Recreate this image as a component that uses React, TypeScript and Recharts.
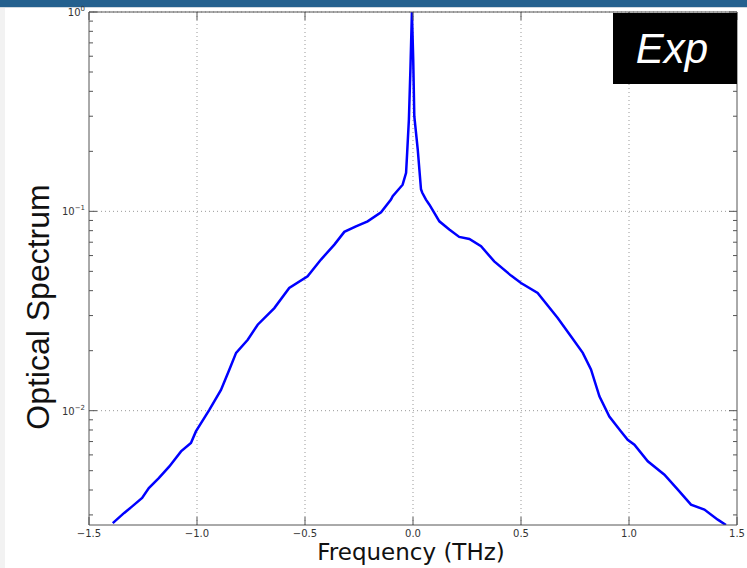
import React from 'react';
import { LineChart, Line, XAxis, YAxis, ReferenceLine } from 'recharts';

// frequency (THz) and normalized optical spectrum
const FREQ = [
  -1.39, -1.337, -1.3, -1.254, -1.223, -1.177, -1.128, -1.074, -1.028, -1.005,
  -0.943, -0.889, -0.85, -0.819, -0.765, -0.719, -0.642, -0.573, -0.488, -0.426,
  -0.364, -0.318, -0.264, -0.21, -0.148, -0.102, -0.094, -0.048, -0.032, -0.027,
  -0.019, -0.012, -0.005,
  0.001, 0.006, 0.022, 0.037, 0.043, 0.06, 0.076, 0.122, 0.168, 0.214, 0.261,
  0.315, 0.376, 0.454, 0.5, 0.577, 0.67, 0.731, 0.786, 0.824, 0.863, 0.909,
  0.963, 0.994, 1.025, 1.087, 1.164, 1.226, 1.287, 1.349, 1.411, 1.449,
];
const SPECTRUM = [
  0.00273, 0.00307, 0.00331, 0.00365, 0.00409, 0.00459, 0.00525, 0.00625, 0.00689, 0.00787,
  0.0101, 0.0127, 0.0161, 0.0195, 0.0227, 0.027, 0.0327, 0.0413, 0.0472, 0.0573,
  0.0681, 0.0789, 0.0841, 0.0891, 0.0989, 0.1145, 0.119, 0.136, 0.156, 0.197,
  0.289, 0.514, 1.0,
  0.578, 0.3, 0.204, 0.129, 0.124, 0.1145, 0.108, 0.0891, 0.081, 0.0744, 0.0727,
  0.0668, 0.0561, 0.0476, 0.0437, 0.039, 0.0292, 0.0236, 0.0195, 0.0161, 0.0118, 0.00935,
  0.00787, 0.00715, 0.00675, 0.00557, 0.00477, 0.00402, 0.00338, 0.00319, 0.00284, 0.00267,
];

const X_TICKS = [-1.5, -1.0, -0.5, 0.0, 0.5, 1.0, 1.5];
const X_GRID = [-1.0, -0.5, 0.0, 0.5, 1.0];
const Y_MAJOR = [0.01, 0.1, 1];
const Y_MINOR = [
  0.003, 0.004, 0.005, 0.006, 0.007, 0.008, 0.009,
  0.02, 0.03, 0.04, 0.05, 0.06, 0.07, 0.08, 0.09,
  0.2, 0.3, 0.4, 0.5, 0.6, 0.7, 0.8, 0.9,
];
const Y_DOMAIN = [0.00267, 1];

const data = FREQ.map((f, i) => ({ f, s: SPECTRUM[i] }));

const AXIS = '#555';
const TICK_TXT = '#333';
const FONT = '"DejaVu Sans", sans-serif';

const fmtX = (v: number) => v.toFixed(1).replace('-', '\u2212');

const LeftTick = (props: any) => {
  const { x, y, payload } = props;
  const v = payload.value;
  const major = Y_MAJOR.includes(v);
  const exp = Math.round(Math.log10(v));
  return (
    <g>
      <line x1={x} x2={x + (major ? 8 : 4)} y1={y} y2={y} stroke={AXIS} />
      {major && (
        <text x={x - 4} y={y + 4} textAnchor="end" fontSize={10} fill={TICK_TXT} fontFamily={FONT}>
          10<tspan dy={-5} fontSize={7}>{exp === 0 ? '0' : '\u2212' + Math.abs(exp)}</tspan>
        </text>
      )}
    </g>
  );
};

const RightTick = (props: any) => {
  const { x, y, payload } = props;
  const major = Y_MAJOR.includes(payload.value);
  return <line x1={x} x2={x - (major ? 8 : 4)} y1={y} y2={y} stroke={AXIS} />;
};

const BottomTick = (props: any) => {
  const { x, y, payload } = props;
  return (
    <g>
      <line x1={x} x2={x} y1={y} y2={y - 8} stroke={AXIS} />
      <text x={x} y={y + 12} textAnchor="middle" fontSize={10} fill={TICK_TXT} fontFamily={FONT}>
        {fmtX(payload.value)}
      </text>
    </g>
  );
};

const TopTick = (props: any) => {
  const { x, y } = props;
  return <line x1={x} x2={x} y1={y} y2={y + 8} stroke={AXIS} />;
};

export default function App() {
  return (
    <div style={{ position: 'fixed', left: 0, top: 0, width: 747, height: 568, background: '#fff', overflow: 'hidden' }}>
      <div style={{ position: 'absolute', left: 0, top: 0, width: 747, height: 7, background: '#24608e' }} />
      <div style={{ position: 'absolute', left: 0, top: 7, width: 747, height: 1, background: '#cfd8e0' }} />
      <div style={{ position: 'absolute', left: 0, top: 8, width: 5, height: 560, background: '#f2f2f2' }} />

      <div style={{ position: 'absolute', left: 0, top: 0 }}>
        <LineChart width={747} height={568} data={data} margin={{ top: 2, right: 0, bottom: 0, left: 0 }}>
          <XAxis
            dataKey="f"
            type="number"
            domain={[-1.5, 1.5]}
            ticks={X_TICKS}
            allowDataOverflow
            height={43}
            tickSize={0}
            tickMargin={0}
            tickLine={false}
            axisLine={{ stroke: AXIS }}
            tick={<BottomTick />}
          />
          <XAxis
            xAxisId="top"
            dataKey="f"
            type="number"
            orientation="top"
            domain={[-1.5, 1.5]}
            ticks={X_TICKS}
            allowDataOverflow
            height={10}
            tickSize={0}
            tickMargin={0}
            tickLine={false}
            axisLine={{ stroke: AXIS }}
            tick={<TopTick />}
          />
          <YAxis
            type="number"
            scale="log"
            domain={Y_DOMAIN}
            ticks={[...Y_MAJOR, ...Y_MINOR]}
            allowDataOverflow
            width={89}
            tickSize={0}
            tickMargin={0}
            tickLine={false}
            axisLine={{ stroke: AXIS }}
            tick={<LeftTick />}
            interval={0}
          />
          <YAxis
            yAxisId="r"
            orientation="right"
            type="number"
            scale="log"
            domain={Y_DOMAIN}
            ticks={[...Y_MAJOR, ...Y_MINOR]}
            allowDataOverflow
            width={10}
            tickSize={0}
            tickMargin={0}
            tickLine={false}
            axisLine={{ stroke: AXIS }}
            tick={<RightTick />}
            interval={0}
          />
          {X_GRID.map((v) => (
            <ReferenceLine key={'vx' + v} x={v} stroke="#999" strokeDasharray="1 3" />
          ))}
          {Y_MAJOR.map((v) => (
            <ReferenceLine key={'hy' + v} y={v} stroke="#999" strokeDasharray="1 3" />
          ))}
          <Line
            dataKey="s"
            type="linear"
            stroke="#0000ff"
            strokeWidth={2.5}
            dot={false}
            isAnimationActive={false}
          />
        </LineChart>
      </div>

      <div
        style={{
          position: 'absolute', left: 613, top: 13, width: 124, height: 71, background: '#000',
          color: '#fff', fontFamily: '"Liberation Sans", Arial, sans-serif', fontStyle: 'italic',
          fontSize: 42, lineHeight: '71px', textAlign: 'center', paddingRight: 6, boxSizing: 'border-box',
        }}
      >
        Exp
      </div>

      <div
        style={{
          position: 'absolute', left: 311, top: 541, width: 200, textAlign: 'center',
          fontFamily: FONT, fontSize: 23, lineHeight: '23px', color: '#111', whiteSpace: 'nowrap',
        }}
      >
        Frequency (THz)
      </div>

      <div
        style={{
          position: 'absolute', left: 38, top: 307, width: 0, height: 0,
        }}
      >
        <div
          style={{
            position: 'absolute', left: -150, top: -20, width: 300, height: 40, lineHeight: '40px',
            textAlign: 'center', transform: 'rotate(-90deg)', fontFamily: '"Liberation Sans", Arial, sans-serif',
            fontSize: 32, color: '#111', whiteSpace: 'nowrap',
          }}
        >
          Optical Spectrum
        </div>
      </div>
    </div>
  );
}
